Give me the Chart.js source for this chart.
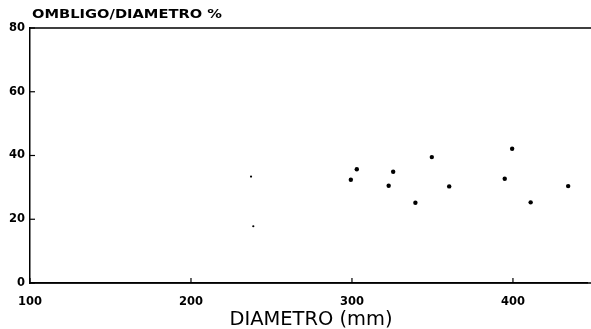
<!DOCTYPE html>
<html><head><meta charset="utf-8">
<script src="https://cdn.jsdelivr.net/npm/chart.js@4"></script>
<style>html,body{margin:0;padding:0;background:#fff}#wrap{width:591px;height:329px;position:relative}</style>
</head><body><div id="wrap"><canvas id="c" width="591" height="329"></canvas></div>
<script>
const diametro = [299.3, 303.0, 322.8, 325.6, 339.4, 349.6, 360.4, 394.9, 399.5, 411.0, 434.3, 238.7, 237.3];
const ombligoPct = [32.4, 35.7, 30.5, 34.9, 25.2, 39.5, 30.3, 32.7, 42.1, 25.3, 30.4, 17.8, 33.4];
const smallMark = [false, false, false, false, false, false, false, false, false, false, false, true, true];
const yTicks = [0, 20, 40, 60, 80];
const xTicks = [100, 200, 300, 400];
const yTitle = 'OMBLIGO/DIAMETRO %';
const xTitle = 'DIAMETRO (mm)';

const pts = diametro.map((d, i) => ({x: d, y: ombligoPct[i]}));
const FONT = '"DejaVu Sans", "Liberation Sans", sans-serif';

function fitText(ctx, text, x, y, targetW, align) {
  const w = ctx.measureText(text).width;
  const k = targetW / w;
  ctx.save();
  const x0 = align === 'center' ? x - targetW / 2 : x;
  ctx.translate(x0, y);
  ctx.scale(k, 1);
  ctx.textAlign = 'left';
  ctx.fillText(text, 0, 0);
  ctx.restore();
}

const decor = {
  id: 'decor',
  afterDraw(chart) {
    const {ctx, chartArea: a, scales} = chart;
    ctx.save();
    ctx.strokeStyle = '#000';
    ctx.lineWidth = 1.5;
    ctx.beginPath();
    ctx.moveTo(a.left, a.top); ctx.lineTo(591, a.top);
    ctx.moveTo(a.left, a.bottom); ctx.lineTo(591, a.bottom);
    ctx.stroke();
    ctx.lineWidth = 1.2;
    yTicks.forEach(v => {
      const y = scales.y.getPixelForValue(v);
      ctx.beginPath(); ctx.moveTo(a.left, y); ctx.lineTo(a.left + 5, y); ctx.stroke();
    });
    xTicks.forEach(v => {
      const x = scales.x.getPixelForValue(v);
      ctx.beginPath(); ctx.moveTo(x, a.bottom); ctx.lineTo(x, a.bottom - 5); ctx.stroke();
    });
    ctx.fillStyle = '#000';
    ctx.textBaseline = 'middle';
    ctx.font = 'bold 13px ' + FONT;
    fitText(ctx, yTitle, a.left + 2, 15, 190, 'left');
    ctx.font = '19px ' + FONT;
    fitText(ctx, xTitle, 311, 320, 163, 'center');
    ctx.restore();
  }
};

new Chart(document.getElementById('c'), {
  type: 'scatter',
  data: { datasets: [{
    data: pts,
    backgroundColor: '#000',
    borderColor: '#000',
    pointRadius: ctx => smallMark[ctx.dataIndex] ? 1.1 : 2.2,
    pointBorderWidth: 0
  }]},
  options: {
    responsive: false,
    animation: false,
    layout: { padding: { top: 28, right: 0, left: 0, bottom: 0 } },
    plugins: { legend: { display: false }, tooltip: { enabled: false } },
    scales: {
      x: {
        type: 'linear', min: 100, max: 446,
        afterBuildTicks: s => { s.ticks = xTicks.map(v => ({value: v})); },
        afterFit: s => { s.height = 46; s.paddingRight = 0; s.paddingLeft = 0; },
        grid: { display: false, drawTicks: false },
        border: { display: true, color: '#000', width: 1.5 },
        ticks: { color: '#000', padding: 12, maxRotation: 0, font: { family: FONT, size: 11.5, weight: 'bold' } }
      },
      y: {
        type: 'linear', min: 0, max: 80,
        afterBuildTicks: s => { s.ticks = yTicks.map(v => ({value: v})); },
        afterFit: s => { s.width = 30; },
        grid: { display: false, drawTicks: false },
        border: { display: true, color: '#000', width: 1.5 },
        ticks: { color: '#000', padding: 5, font: { family: FONT, size: 11.5, weight: 'bold' } }
      }
    }
  },
  plugins: [decor]
});
</script></body></html>
